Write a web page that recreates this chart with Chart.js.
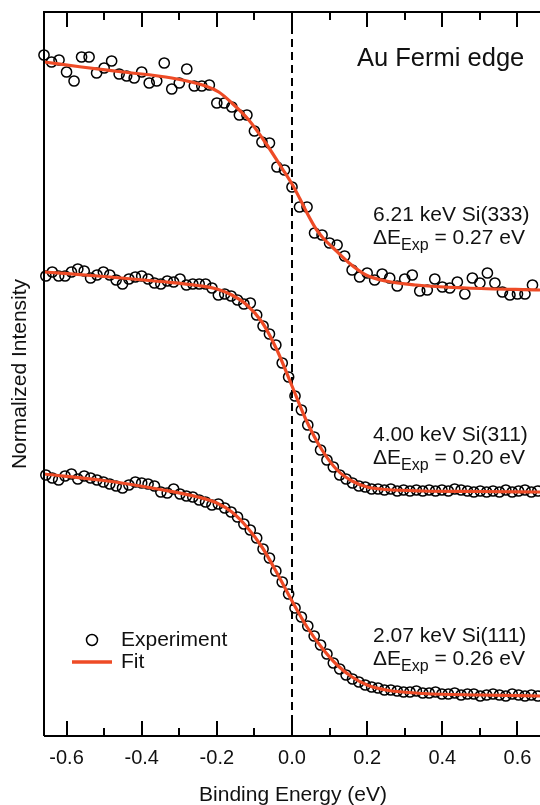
<!DOCTYPE html>
<html>
<head>
<meta charset="utf-8">
<title>Au Fermi edge</title>
<script src="https://cdn.jsdelivr.net/npm/chart.js"></script>
<style>
  html, body { margin: 0; padding: 0; background: #fff; }
  canvas { display: block; }
</style>
</head>
<body>
<canvas id="grafico" width="540" height="805"></canvas>
<script>
// 🔧 Au Fermi edge – three beamline settings, stacked with an offset

// 👉 6.21 keV Si(333): 0.02 eV steps
const energiaSuperior = [
  -0.66, -0.64, -0.62, -0.60, -0.58, -0.56, -0.54, -0.52, -0.50, -0.48,
  -0.46, -0.44, -0.42, -0.40, -0.38, -0.36, -0.34, -0.32, -0.30, -0.28,
  -0.26, -0.24, -0.22, -0.20, -0.18, -0.16, -0.14, -0.12, -0.10, -0.08,
  -0.06, -0.04, -0.02, 0.00, 0.02, 0.04, 0.06, 0.08, 0.10, 0.12,
  0.14, 0.16, 0.18, 0.20, 0.22, 0.24, 0.26, 0.28, 0.30, 0.32,
  0.34, 0.36, 0.38, 0.40, 0.42, 0.44, 0.46, 0.48, 0.50, 0.52,
  0.54, 0.56, 0.58, 0.60, 0.62, 0.64
];
const intensidadSuperior = [
  6.81, 6.74, 6.76, 6.64, 6.55, 6.79, 6.79, 6.63, 6.68, 6.75,
  6.62, 6.60, 6.58, 6.64, 6.53, 6.55, 6.73, 6.47, 6.53, 6.67,
  6.50, 6.50, 6.51, 6.33, 6.33, 6.29, 6.21, 6.21, 6.05, 5.94,
  5.93, 5.69, 5.66, 5.49, 5.29, 5.29, 5.03, 5.01, 4.93, 4.91,
  4.80, 4.66, 4.59, 4.63, 4.56, 4.62, 4.58, 4.50, 4.57, 4.61,
  4.45, 4.46, 4.57, 4.49, 4.48, 4.54, 4.42, 4.58, 4.53, 4.63,
  4.53, 4.44, 4.41, 4.42, 4.42, 4.51
];

// 👉 4.00 keV Si(311) and 2.07 keV Si(111): finer steps
const energiaFina = [
  -0.655, -0.638, -0.621, -0.604, -0.587, -0.570, -0.553, -0.536, -0.519, -0.502,
  -0.485, -0.468, -0.451, -0.434, -0.417, -0.400, -0.383, -0.366, -0.349, -0.332,
  -0.315, -0.298, -0.281, -0.264, -0.247, -0.230, -0.213, -0.196, -0.179, -0.162,
  -0.145, -0.128, -0.111, -0.094, -0.077, -0.060, -0.043, -0.026, -0.009, 0.008,
  0.025, 0.042, 0.059, 0.076, 0.093, 0.110, 0.127, 0.144, 0.161, 0.178,
  0.195, 0.212, 0.229, 0.246, 0.263, 0.280, 0.297, 0.314, 0.331, 0.348,
  0.365, 0.382, 0.399, 0.416, 0.433, 0.450, 0.467, 0.484, 0.501, 0.518,
  0.535, 0.552, 0.569, 0.586, 0.603, 0.620, 0.637, 0.654
];
const intensidadMedia = [
  4.60, 4.64, 4.60, 4.60, 4.64, 4.67, 4.65, 4.58, 4.61, 4.64,
  4.61, 4.56, 4.52, 4.57, 4.59, 4.60, 4.57, 4.53, 4.52, 4.55,
  4.54, 4.57, 4.51, 4.52, 4.52, 4.52, 4.48, 4.41, 4.42, 4.40,
  4.36, 4.32, 4.33, 4.21, 4.10, 4.02, 3.91, 3.73, 3.59, 3.40,
  3.26, 3.11, 2.99, 2.86, 2.76, 2.69, 2.61, 2.57, 2.53, 2.50,
  2.49, 2.47, 2.47, 2.46, 2.47, 2.45, 2.46, 2.45, 2.46, 2.45,
  2.46, 2.45, 2.46, 2.45, 2.47, 2.46, 2.45, 2.44, 2.45, 2.44,
  2.45, 2.44, 2.46, 2.44, 2.45, 2.46, 2.44, 2.45
];
const intensidadInferior = [
  2.61, 2.58, 2.56, 2.60, 2.62, 2.57, 2.60, 2.58, 2.56, 2.54,
  2.52, 2.50, 2.48, 2.51, 2.54, 2.53, 2.52, 2.50, 2.44, 2.43,
  2.47, 2.42, 2.40, 2.39, 2.36, 2.34, 2.31, 2.32, 2.28, 2.24,
  2.19, 2.12, 2.06, 1.98, 1.87, 1.78, 1.65, 1.54, 1.42, 1.28,
  1.19, 1.10, 1.00, 0.91, 0.82, 0.73, 0.67, 0.61, 0.57, 0.54,
  0.51, 0.49, 0.48, 0.46, 0.46, 0.45, 0.44, 0.44, 0.45, 0.43,
  0.43, 0.44, 0.42, 0.42, 0.43, 0.41, 0.42, 0.42, 0.40, 0.41,
  0.42, 0.41, 0.40, 0.42, 0.41, 0.40, 0.41, 0.40
];

// 👉 Fit curves
const ajusteEnergiaSup = [-0.66, -0.56, -0.45, -0.32, -0.23, -0.195, -0.16, -0.115, -0.07, -0.027, 0.0, 0.02, 0.04, 0.064, 0.085, 0.107, 0.152, 0.197, 0.25, 0.33, 0.464, 0.66];
const ajusteSup = [6.74, 6.69, 6.64, 6.58, 6.50, 6.44, 6.33, 6.16, 5.93, 5.68, 5.52, 5.38, 5.23, 5.07, 4.97, 4.89, 4.73, 4.61, 4.55, 4.51, 4.48, 4.46];

const ajusteEnergia = [-0.66, -0.5, -0.35, -0.25, -0.2, -0.16, -0.12, -0.08, -0.04, 0.0, 0.04, 0.08, 0.12, 0.16, 0.2, 0.25, 0.35, 0.5, 0.66];
const ajusteMedio = [4.64, 4.595, 4.545, 4.505, 4.47, 4.41, 4.31, 4.14, 3.86, 3.50, 3.14, 2.86, 2.66, 2.55, 2.49, 2.465, 2.45, 2.445, 2.44];
const ajusteInf = [2.62, 2.555, 2.465, 2.39, 2.33, 2.24, 2.09, 1.89, 1.63, 1.35, 1.09, 0.88, 0.71, 0.59, 0.51, 0.46, 0.425, 0.41, 0.40];

// 👉 Axes
const ticksMayores = [-0.6, -0.4, -0.2, 0.0, 0.2, 0.4, 0.6];
const ticksMenores = [-0.5, -0.3, -0.1, 0.1, 0.3, 0.5];
const nivelFermi = 0.0;

// 👉 Labels
const etiquetas = ['6.21 keV Si(333)', '4.00 keV Si(311)', '2.07 keV Si(111)'];
const resoluciones = ['0.27', '0.20', '0.26'];

const FUENTE = '"Liberation Sans", Arial, Helvetica, sans-serif';
const ROJO = '#ee4b26';

const puntos = (xs, ys) => xs.map((x, i) => ({ x: x, y: ys[i] }));

function serieExp(ys, xs) {
  return {
    type: 'scatter',
    data: puntos(xs, ys),
    pointStyle: 'circle',
    pointRadius: 5.1,
    pointBorderWidth: 1.5,
    pointBorderColor: '#000',
    pointBackgroundColor: 'rgba(0,0,0,0)',
    showLine: false,
    clip: false,
    order: 2
  };
}

function serieAjuste(ys, xs) {
  return {
    type: 'line',
    data: puntos(xs, ys),
    borderColor: ROJO,
    borderWidth: 3.2,
    pointRadius: 0,
    cubicInterpolationMode: 'monotone',
    fill: false,
    order: 1
  };
}

function textoDelta(ctx, x, y, valor) {
  ctx.font = `21px ${FUENTE}`;
  ctx.fillText('ΔE', x, y);
  let w = ctx.measureText('ΔE').width;
  ctx.font = `16px ${FUENTE}`;
  ctx.fillText('Exp', x + w, y + 8);
  w += ctx.measureText('Exp').width;
  ctx.font = `21px ${FUENTE}`;
  ctx.fillText(' = ' + valor + ' eV', x + w, y);
}

// 🔧 Frame, inward ticks, titles, legend and annotations
const marco = {
  id: 'marco',
  afterDatasetsDraw(chart) {
    const { ctx, chartArea: a } = chart;
    const x = chart.scales.x;
    ctx.save();
    ctx.strokeStyle = '#000';
    ctx.fillStyle = '#111';
    ctx.lineWidth = 2;
    ctx.beginPath();
    ctx.moveTo(a.left, a.bottom);
    ctx.lineTo(a.left, a.top);
    ctx.lineTo(a.right, a.top);
    ctx.moveTo(a.left, a.bottom);
    ctx.lineTo(a.right, a.bottom);
    ctx.stroke();

    ctx.beginPath();
    ticksMayores.forEach(v => {
      const px = Math.round(x.getPixelForValue(v));
      ctx.moveTo(px, a.bottom); ctx.lineTo(px, a.bottom - 15);
      ctx.moveTo(px, a.top); ctx.lineTo(px, a.top + 15);
    });
    ticksMenores.forEach(v => {
      const px = Math.round(x.getPixelForValue(v));
      ctx.moveTo(px, a.bottom); ctx.lineTo(px, a.bottom - 8);
      ctx.moveTo(px, a.top); ctx.lineTo(px, a.top + 8);
    });
    ctx.stroke();

    ctx.textBaseline = 'middle';
    ctx.textAlign = 'center';
    ctx.font = `20px ${FUENTE}`;
    ticksMayores.forEach(v => {
      ctx.fillText(v.toFixed(1), x.getPixelForValue(v), a.bottom + 22);
    });

    ctx.font = `21px ${FUENTE}`;
    ctx.fillText('Binding Energy (eV)', 293, 795);

    ctx.save();
    ctx.translate(20, (a.top + a.bottom) / 2);
    ctx.rotate(-Math.PI / 2);
    ctx.fillText('Normalized Intensity', 0, 0);
    ctx.restore();

    ctx.textAlign = 'left';
    ctx.font = `25.5px ${FUENTE}`;
    ctx.fillText('Au Fermi edge', 357, 59);

    const filas = [215, 435, 636];
    etiquetas.forEach((t, i) => {
      ctx.font = `21px ${FUENTE}`;
      ctx.fillText(t, 373, filas[i]);
      textoDelta(ctx, 373, filas[i] + 23, resoluciones[i]);
    });

    // 👉 Legend
    ctx.lineWidth = 1.5;
    ctx.beginPath();
    ctx.arc(92, 640, 5.5, 0, Math.PI * 2);
    ctx.stroke();
    ctx.strokeStyle = ROJO;
    ctx.lineWidth = 3.5;
    ctx.beginPath();
    ctx.moveTo(72, 662);
    ctx.lineTo(112, 662);
    ctx.stroke();
    ctx.font = `21px ${FUENTE}`;
    ctx.fillText('Experiment', 121, 640);
    ctx.fillText('Fit', 121, 662);
    ctx.restore();
  }
};

new Chart(document.getElementById('grafico'), {
  data: {
    datasets: [
      {
        type: 'line',
        data: [{ x: nivelFermi, y: 0 }, { x: nivelFermi, y: 7.24 }],
        borderColor: '#000',
        borderWidth: 2,
        borderDash: [8, 5],
        pointRadius: 0,
        order: 3
      },
      serieExp(intensidadSuperior, energiaSuperior),
      serieExp(intensidadMedia, energiaFina),
      serieExp(intensidadInferior, energiaFina),
      serieAjuste(ajusteSup, ajusteEnergiaSup),
      serieAjuste(ajusteMedio, ajusteEnergia),
      serieAjuste(ajusteInf, ajusteEnergia)
    ]
  },
  options: {
    responsive: false,
    animation: false,
    layout: { autoPadding: false, padding: { left: 44, top: 12, right: 0, bottom: 69 } },
    scales: {
      x: { type: 'linear', min: -0.66, max: 0.66, display: false },
      y: { type: 'linear', min: 0, max: 7.24, display: false }
    },
    plugins: {
      legend: { display: false },
      tooltip: { enabled: false }
    }
  },
  plugins: [marco]
});
</script>
</body>
</html>
